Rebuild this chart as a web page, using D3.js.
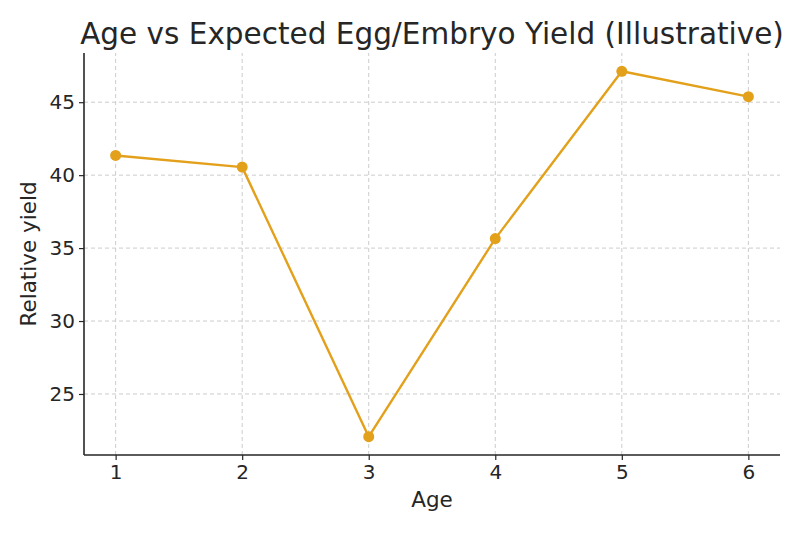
<!DOCTYPE html>
<html>
<head>
<meta charset="utf-8">
<script src="https://cdn.jsdelivr.net/npm/d3@7"></script>
<style>
  body { margin: 0; background: #ffffff; }
  svg { display: block; }
  text { font-family: "DejaVu Sans", sans-serif; fill: #262626; }
</style>
</head>
<body>
<svg id="chart" width="800" height="533"></svg>
<script>
const ages = [1, 2, 3, 4, 5, 6];
const yieldValues = [41.35, 40.55, 22.07, 35.65, 47.12, 45.38];
const xTicks = [1, 2, 3, 4, 5, 6];
const yTicks = [25, 30, 35, 40, 45];
const titleText = "Age vs Expected Egg/Embryo Yield (Illustrative)";
const xLabel = "Age";
const yLabel = "Relative yield";

const W = 800, H = 533;
const m = { left: 84, right: 20, top: 53, bottom: 78 };
const svg = d3.select("#chart");
svg.append("rect").attr("width", W).attr("height", H).attr("fill", "#fff");

const x = d3.scaleLinear().domain([0.75, 6.25]).range([m.left, W - m.right]);
const yMin = d3.min(yieldValues), yMax = d3.max(yieldValues), pad = (yMax - yMin) * 0.05;
const y = d3.scaleLinear().domain([yMin - pad, yMax + pad]).range([H - m.bottom, m.top]);

const g = svg.append("g");
// grid
g.selectAll(".vg").data(xTicks).enter().append("line")
  .attr("x1", d => x(d)).attr("x2", d => x(d))
  .attr("y1", y.range()[0]).attr("y2", y.range()[1])
  .attr("stroke", "#cccccc").attr("stroke-width", 1).attr("stroke-dasharray", "4,3");
g.selectAll(".hg").data(yTicks).enter().append("line")
  .attr("y1", d => y(d)).attr("y2", d => y(d))
  .attr("x1", x.range()[0]).attr("x2", x.range()[1])
  .attr("stroke", "#cccccc").attr("stroke-width", 1).attr("stroke-dasharray", "4,3");

// axes
const xAxis = d3.axisBottom(x).tickValues(xTicks).tickSize(5).tickPadding(5).tickFormat(d3.format("d"));
const yAxis = d3.axisLeft(y).tickValues(yTicks).tickSize(5).tickPadding(4).tickFormat(d3.format("d"));
const gx = svg.append("g").attr("transform", `translate(0,${H - m.bottom})`).call(xAxis);
const gy = svg.append("g").attr("transform", `translate(${m.left},0)`).call(yAxis);
[gx, gy].forEach(a => {
  a.select(".domain").attr("stroke", "#262626").attr("stroke-width", 1.6);
  a.selectAll(".tick line").attr("stroke", "#262626").attr("stroke-width", 1.2);
  a.selectAll(".tick text").attr("font-size", 20).attr("font-family", "DejaVu Sans").attr("fill", "#262626");
});
gx.select(".domain").attr("d", `M${x.range()[0]},0H${x.range()[1]}`);
gy.select(".domain").attr("d", `M0,${y.range()[0]}V${y.range()[1]}`);

// line
const color = "#e3a01b";
svg.append("path").datum(ages.map((a, i) => [a, yieldValues[i]]))
  .attr("fill", "none").attr("stroke", color).attr("stroke-width", 2.4)
  .attr("stroke-linejoin", "round")
  .attr("d", d3.line().x(d => x(d[0])).y(d => y(d[1])));
svg.selectAll(".pt").data(ages.map((a, i) => [a, yieldValues[i]])).enter().append("circle")
  .attr("cx", d => x(d[0])).attr("cy", d => y(d[1])).attr("r", 5.5).attr("fill", color);

// labels
const cx = (x.range()[0] + x.range()[1]) / 2;
svg.append("text").attr("x", cx).attr("y", 44).attr("text-anchor", "middle")
  .attr("font-size", 29.5).text(titleText);
svg.append("text").attr("x", cx).attr("y", 507).attr("text-anchor", "middle")
  .attr("font-size", 21.5).text(xLabel);
svg.append("text").attr("transform", `translate(36,${(y.range()[0] + y.range()[1]) / 2}) rotate(-90)`)
  .attr("text-anchor", "middle").attr("font-size", 21.5).text(yLabel);
</script>
</body>
</html>
